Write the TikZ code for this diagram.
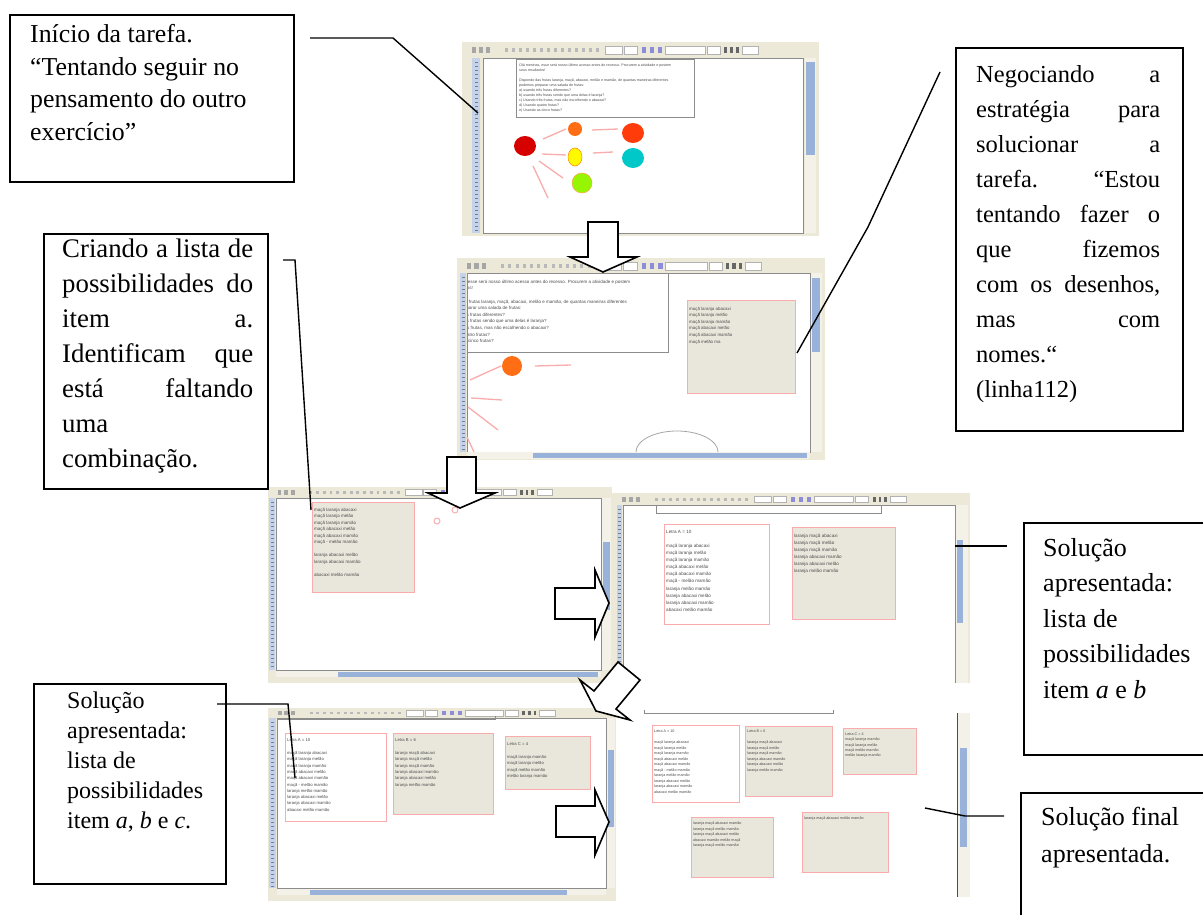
\documentclass[tikz,border=0pt]{standalone}
\usepackage{fontspec}
\setmainfont{Liberation Serif}
\newfontfamily\scrfont{Liberation Sans}
\definecolor{xpbeige}{RGB}{236,233,216}
\definecolor{scrolltrack}{RGB}{243,241,232}
\definecolor{xpblue}{RGB}{152,178,218}
\definecolor{rulerblue}{RGB}{196,210,234}
\definecolor{pinkline}{RGB}{250,172,172}
\definecolor{notegray}{RGB}{233,231,220}
\definecolor{scrtext}{RGB}{75,75,75}
\definecolor{framegray}{RGB}{140,140,140}
\definecolor{fdarkred}{RGB}{215,0,0}
\definecolor{forange}{RGB}{255,110,20}
\definecolor{forangered}{RGB}{255,60,10}
\definecolor{fyellow}{RGB}{255,250,0}
\definecolor{fcyan}{RGB}{0,200,200}
\definecolor{flime}{RGB}{150,245,0}

\newcommand{\scrtxt}[6]{\node[anchor=base west, inner sep=0pt] (#1) at (#2,#3) {\parbox[t]{300pt}{\scrfont\fontsize{#4}{#5}\selectfont\color{scrtext}#6}};}

\newcommand{\xptoolbar}[4]{%
\begin{scope}[shift={(#1,#2)}, xscale=#3/358, yscale=#4/14]
 \foreach \ix in {10,17,24} \fill[gray!70] (\ix,4) rectangle ++(4,6);
 \foreach \ix in {43,50,...,136} \fill[gray!55] (\ix,5) rectangle ++(3,4);
 \draw[gray!60, fill=white, line width=.4pt] (143,3) rectangle (160,11);
 \draw[gray!60, fill=white, line width=.4pt] (162,3) rectangle (175,11);
 \foreach \ix in {180,188,196} \fill[gray!50!blue!60] (\ix,4) rectangle ++(4,6);
 \draw[gray!60, fill=white, line width=.4pt] (203,3) rectangle (243,11);
 \draw[gray!60, fill=white, line width=.4pt] (245,3) rectangle (258,11);
 \foreach \ix in {262,268,274} \fill[gray!80!black] (\ix,4) rectangle ++(3,6);
 \draw[gray!60, fill=white, line width=.4pt] (280,3) rectangle (296,11);
\end{scope}}

\newcommand{\fruitsA}{maçã laranja abacaxi\\maçã laranja melão\\maçã laranja mamão\\maçã abacaxi melão\\maçã abacaxi mamão\\maçã - melão mamão\\laranja melão mamão\\laranja abacaxi melão\\laranja abacaxi mamão\\abacaxi melão mamão}
\newcommand{\fruitsB}{laranja maçã abacaxi\\laranja maçã melão\\laranja maçã mamão\\laranja abacaxi mamão\\laranja abacaxi melão\\laranja melão mamão}
\newcommand{\fruitsC}{maçã laranja mamão\\maçã laranja melão\\maçã melão mamão\\melão laranja mamão}
\newcommand{\tarefatxt}{Olá meninas, esse será nosso último acesso antes do recesso. Procurem a atividade e postem\\seus resultados!\\\mbox{}\\Dispondo das frutas laranja, maçã, abacaxi, melão e mamão, de quantas maneiras diferentes\\podemos preparar uma salada de frutas:\\a) usando três frutas diferentes?\\b) usando três frutas sendo que uma delas é laranja?\\c) Usando três frutas, mas não escolhendo o abacaxi?\\d) Usando quatro frutas?\\e) Usando as cinco frutas?}

\begin{document}
\begin{tikzpicture}[x=1pt, y=-1pt,
  notebox/.style={draw=black, line width=1.6pt, fill=white, inner sep=0pt, anchor=north west},
  notetext/.style={anchor=base west, inner sep=0pt},
  conn/.style={draw=black, line width=1.4pt},
  blockarrow/.style={draw=black, fill=white, line width=1.6pt, line join=miter},
  pinkstroke/.style={draw=pinkline, line width=1.3pt},
  memo/.style={draw=pinkline, line width=.9pt, fill=notegray},
  memowhite/.style={draw=pinkline, line width=.9pt, fill=white},
  canvasframe/.style={draw=framegray, line width=.6pt}]
\useasboundingbox (0,0) rectangle (1203,915);
\clip (0,0) rectangle (1203,915);
\fill[white] (0,0) rectangle (1203,915);

% ---------- Screenshot 1 ----------
\fill[xpbeige] (462,42) rectangle (819,236);
\xptoolbar{462}{43}{358}{14}
\fill[rulerblue] (472,58) rectangle (480,233);
\foreach \yy in {62,66,...,230} \draw[rulerblue!60!black, line width=.25pt] (475,\yy) -- (478,\yy);
\fill[white] (483,58) rectangle (803,233);
\draw[canvasframe] (483,58) rectangle (803,233);
\fill[scrolltrack] (805,58) rectangle (816,233);
\fill[xpblue] (806,62) rectangle (815,155);
\draw[canvasframe, fill=white] (516,59) rectangle (694,117);
\scrtxt{s1txt}{519}{64}{3.6}{5}{\tarefatxt}
\draw[pinkstroke] (543,139) -- (566,129);
\draw[pinkstroke] (542,154) -- (566,155);
\draw[pinkstroke] (539,161) -- (563,178);
\draw[pinkstroke] (533,166) -- (548,198);
\draw[pinkstroke] (592,130) -- (618,129);
\draw[pinkstroke] (593,153) -- (613,152);
\fill[fdarkred] (525,146) ellipse[x radius=11, y radius=10];
\fill[forange] (575,129) circle[radius=7];
\fill[forangered] (633,133) ellipse[x radius=11, y radius=10];
\draw[orange, fill=fyellow, line width=.5pt] (575,157) ellipse[x radius=7, y radius=9];
\fill[fcyan] (633,158) ellipse[x radius=11, y radius=10];
\draw[orange!70, fill=flime, line width=.5pt] (582,183) circle[radius=10];

% ---------- Screenshot 2 ----------
\fill[xpbeige] (457,258) rectangle (825,460);
\xptoolbar{457}{259}{368}{14}
\fill[rulerblue] (460,273) rectangle (466,452);
\foreach \yy in {277,281,...,450} \draw[rulerblue!60!black, line width=.25pt] (462,\yy) -- (465,\yy);
\fill[white] (467,273) rectangle (810,452);
\draw[canvasframe] (467,273) rectangle (810,452);
\fill[scrolltrack] (811,273) rectangle (822,452);
\fill[xpblue] (812,278) rectangle (820,352);
\fill[scrolltrack] (467,452) rectangle (810,459);
\fill[xpblue] (533,452.5) rectangle (807,458);
\begin{scope}
\clip (468,274) rectangle (667,351);
\scrtxt{s2txt}{440}{280}{4.5}{6.6}{\tarefatxt}
\end{scope}
\draw[canvasframe] (467,273) -- (668,273) -- (668,352) -- (467,352);
\draw[memo] (687,300) rectangle (795,393);
\scrtxt{s2list}{689}{307}{4.4}{6.6}{maçã laranja abacaxi\\maçã laranja melão\\maçã laranja mamão\\maçã abacaxi melão\\maçã abacaxi mamão\\maçã melão ma}
\draw[pinkstroke] (470,380) -- (501,366);
\draw[pinkstroke] (535,366) -- (571,365);
\draw[pinkstroke] (471,398) -- (502,400);
\draw[pinkstroke] (468,407) -- (498,430);
\draw[pinkstroke] (467,437) -- (474,452);
\fill[forange] (512,366) circle[radius=10];
\draw[gray!70, line width=.8pt] (636,452) arc[start angle=180, end angle=360, x radius=41, y radius=21];

% ---------- Screenshot 3 ----------
\fill[xpbeige] (268,487) rectangle (612,683);
\xptoolbar{268}{487}{344}{11}
\fill[rulerblue] (269,498) rectangle (275,670);
\foreach \yy in {502,506,...,668} \draw[rulerblue!60!black, line width=.25pt] (271,\yy) -- (274,\yy);
\fill[white] (276,498) rectangle (601,670);
\draw[canvasframe] (276,498) rectangle (601,670);
\fill[scrolltrack] (602,498) rectangle (611,670);
\fill[xpblue] (603,542) rectangle (610,610);
\fill[scrolltrack] (276,671) rectangle (601,677);
\fill[xpblue] (338,671.5) rectangle (598,676.5);
\draw[memo] (312,502) rectangle (414,592);
\scrtxt{s3list}{314}{508}{4.5}{6.5}{maçã laranja abacaxi\\maçã laranja melão\\maçã laranja mamão\\maçã abacaxi melão\\maçã abacaxi mamão\\maçã - melão mamão\\\mbox{}\\laranja abacaxi melão\\laranja abacaxi mamão\\\mbox{}\\abacaxi melão mamão}
\draw[pinkline, line width=.9pt] (455,510) circle[radius=3];
\draw[pinkline, line width=.9pt] (437,521) circle[radius=3];

% ---------- Screenshot 4 ----------
\fill[xpbeige] (612,493) rectangle (970,683);
\xptoolbar{612}{494}{356}{11}
\fill[rulerblue] (617,505) rectangle (622,683);
\foreach \yy in {509,513,...,681} \draw[rulerblue!60!black, line width=.25pt] (618,\yy) -- (621,\yy);
\fill[white] (623,505) rectangle (955,683);
\draw[canvasframe] (623,683) -- (623,505) -- (955,505) -- (955,683);
\fill[scrolltrack] (956,505) rectangle (968,683);
\fill[xpblue] (956.5,540) rectangle (963,623);
\draw[framegray, line width=.8pt] (656,505) -- (656,513) -- (881,513) -- (881,505);
\draw[memowhite] (664,524) rectangle (769,624);
\scrtxt{s4a}{666}{530}{4.6}{7.1}{Letra A = 10\\\mbox{}\\\fruitsA}
\draw[memo] (792,527) rectangle (895,619);
\scrtxt{s4b}{794}{534}{4.6}{7.1}{\fruitsB}

% ---------- Screenshot 5 ----------
\fill[xpbeige] (268,708) rectangle (616,901);
\xptoolbar{268}{708}{347}{10}
\fill[rulerblue] (269,718) rectangle (276,888);
\foreach \yy in {722,726,...,886} \draw[rulerblue!60!black, line width=.25pt] (271,\yy) -- (274,\yy);
\fill[white] (277,718) rectangle (606,888);
\draw[canvasframe] (277,718) rectangle (606,888);
\fill[scrolltrack] (607,718) rectangle (615,888);
\fill[xpblue] (608,750) rectangle (614,827);
\fill[scrolltrack] (277,889) rectangle (606,895);
\fill[xpblue] (310,889.5) rectangle (567,894.5);
\draw[framegray, line width=.8pt] (277,719) -- (495,719) -- (495,716);
\draw[memowhite] (285,733) rectangle (386,821);
\scrtxt{s5a}{287}{739}{4.2}{6.3}{Letra A = 10\\\mbox{}\\\fruitsA}
\draw[memo] (393,733) rectangle (493,814);
\scrtxt{s5b}{395}{739}{4.2}{6.3}{Letra B = 6\\\mbox{}\\\fruitsB}
\draw[memo] (505,736) rectangle (590,789);
\scrtxt{s5c}{507}{743}{4.2}{6.3}{Letra C = 4\\\mbox{}\\\fruitsC}

% ---------- Screenshot 6 ----------
\draw[framegray, line width=.8pt] (644,710) -- (644,713) -- (833,713) -- (833,710);
\draw[memowhite] (652,725) rectangle (739,802);
\scrtxt{s6a}{654}{730}{3.7}{5.5}{Letra A = 10\\\mbox{}\\\fruitsA}
\draw[memo] (745,726) rectangle (832,796);
\scrtxt{s6b}{747}{730}{3.7}{5.5}{Letra B = 6\\\mbox{}\\\fruitsB}
\draw[memo] (843,728) rectangle (916,774);
\scrtxt{s6c}{845}{733}{3.7}{5.3}{Letra C = 4\\\fruitsC}
\draw[memo] (691,817) rectangle (773,877);
\scrtxt{s6d}{693}{822}{3.7}{5.5}{laranja maçã abacaxi mamão\\laranja maçã melão mamão\\laranja maçã abacaxi melão\\abacaxi mamão melão maçã\\laranja maçã melão mamão}
\draw[memo] (802,812) rectangle (888,872);
\scrtxt{s6e}{804}{817}{3.7}{5.5}{laranja maçã abacaxi melão mamão}
\fill[scrolltrack] (958,713) rectangle (970,897);
\draw[black!70, line width=.8pt] (957,713) -- (957,897);
\fill[xpblue] (960,748) rectangle (967,847);

% ---------- Block arrows ----------
\draw[blockarrow] (588,222) -- (618,222) -- (618,257) -- (637,257) -- (603,272) -- (570,257) -- (588,257) -- cycle;
\draw[blockarrow] (447,457) -- (476,457) -- (476,493) -- (495,493) -- (460,508) -- (428,493) -- (447,493) -- cycle;
\draw[blockarrow] (555,588) -- (595,588) -- (595,570) -- (609,603) -- (595,637) -- (595,619) -- (555,619) -- cycle;
\draw[blockarrow] (618,662) -- (594,691) -- (580,680) -- (596,711) -- (630,720) -- (616,709) -- (640,680) -- cycle;
\draw[blockarrow] (556,806) -- (595,806) -- (595,790) -- (609,822) -- (595,855) -- (595,837) -- (556,837) -- cycle;

% ---------- Text boxes ----------
\node[notebox, minimum width=284pt, minimum height=167pt] (b1) at (9,14) {};
\node[notetext] (t1) at (30,43) {\parbox[t]{260pt}{\fontsize{25.8}{32.5}\selectfont Início da tarefa.\\“Tentando seguir no\\pensamento do outro\\exercício”}};

\node[notebox, minimum width=227pt, minimum height=383pt] (b2) at (955,47) {};
\node[notetext] (t2) at (976,83) {\parbox[t]{184pt}{\fontsize{24.5}{35}\selectfont
\makebox[184pt][s]{Negociando a}\\
\makebox[184pt][s]{estratégia para}\\
\makebox[184pt][s]{solucionar a}\\
\makebox[184pt][s]{tarefa. “Estou}\\
\makebox[184pt][s]{tentando fazer o}\\
\makebox[184pt][s]{que fizemos}\\
\makebox[184pt][s]{com os desenhos,}\\
\makebox[184pt][s]{mas com}\\
nomes.“\\
(linha112)}};

\node[notebox, minimum width=224pt, minimum height=255pt] (b3) at (43,233) {};
\node[notetext] (t3) at (62,258) {\parbox[t]{191pt}{\fontsize{26.8}{35}\selectfont
\makebox[191pt][s]{Criando a lista de}\\
\makebox[191pt][s]{possibilidades do}\\
\makebox[191pt][s]{item a.}\\
\makebox[191pt][s]{Identificam que}\\
\makebox[191pt][s]{está faltando}\\
uma\\
combinação.}};

\node[notebox, minimum width=192pt, minimum height=200pt] (b4) at (33,683) {};
\node[notetext] (t4) at (67,708) {\parbox[t]{160pt}{\fontsize{24}{30.2}\selectfont Solução\\apresentada:\\lista de\\possibilidades\\item \textit{a}, \textit{b} e \textit{c}.}};

\node[notebox, minimum width=200pt, minimum height=232pt] (b5) at (1023,522) {};
\node[notetext] (t5) at (1043,556) {\parbox[t]{160pt}{\fontsize{26}{35.5}\selectfont Solução\\apresentada:\\lista de\\possibilidades\\item \textit{a} e \textit{b}}};

\node[notebox, minimum width=200pt, minimum height=150pt] (b6) at (1020,792) {};
\node[notetext] (t6) at (1041,825) {\parbox[t]{160pt}{\fontsize{26}{37}\selectfont Solução final\\apresentada.}};

% ---------- Connectors ----------
\coordinate (c1a) at (310,38);  \coordinate (c1b) at (393,38);  \coordinate (c1c) at (478,113);
\coordinate (c2a) at (940,72);  \coordinate (c2b) at (868,227); \coordinate (c2c) at (797,353);
\coordinate (c3a) at (283,260); \coordinate (c3b) at (295,260); \coordinate (c3c) at (311,510);
\coordinate (c4a) at (217,704); \coordinate (c4b) at (288,704); \coordinate (c4c) at (295,778);
\coordinate (c5a) at (1007,546); \coordinate (c5b) at (955,546);
\coordinate (c6a) at (1004,816); \coordinate (c6b) at (965,816); \coordinate (c6c) at (925,808);
\draw[conn] (c1a) -- (c1b) -- (c1c);
\draw[conn] (c2a) -- (c2b) -- (c2c);
\draw[conn] (c3a) -- (c3b) -- (c3c);
\draw[conn] (c4a) -- (c4b) -- (c4c);
\draw[conn] (c5a) -- (c5b);
\draw[conn] (c6a) -- (c6b) -- (c6c);
\end{tikzpicture}
\end{document}
